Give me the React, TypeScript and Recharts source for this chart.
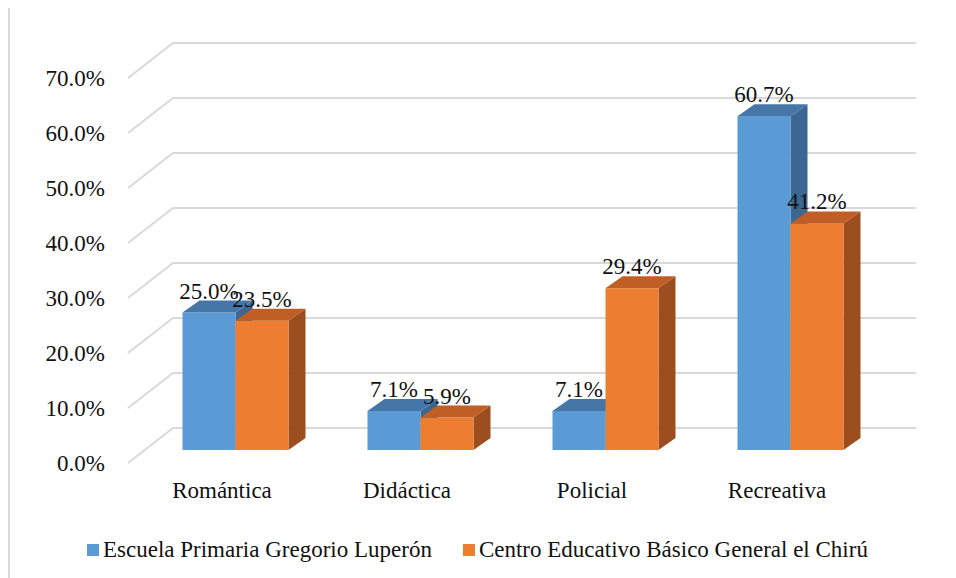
import { BarChart, Bar, XAxis, YAxis, CartesianGrid, LabelList } from 'recharts';

const categories = ['Romántica', 'Didáctica', 'Policial', 'Recreativa'];
const escuelaValues = [25.0, 7.1, 7.1, 60.7];
const centroValues = [23.5, 5.9, 29.4, 41.2];
const seriesNames = ['Escuela Primaria Gregorio Luperón', 'Centro Educativo Básico General el Chirú'];
const yTicks = [0, 10, 20, 30, 40, 50, 60, 70];

const data = categories.map((name, i) => ({
  name,
  escuela: escuelaValues[i],
  centro: centroValues[i],
}));

const FONT = '"Liberation Serif", serif';
const GRID = '#d9d9d9';

// depth of each bar block (top + side faces)
const DX = 17;
const DY = 12;

const palette = {
  escuela: { front: '#5b9bd5', top: '#4676a8', side: '#3c6792' },
  centro: { front: '#ed7d31', top: '#bf5f26', side: '#9c4e1e' },
};

function Bar3D(props: any) {
  const { x, y, width, height, colors } = props;
  if (width == null || height == null) return null;
  const top = `${x},${y} ${x + DX},${y - DY} ${x + width + DX},${y - DY} ${x + width},${y}`;
  const side = `${x + width},${y} ${x + width + DX},${y - DY} ${x + width + DX},${y + height - DY} ${x + width},${y + height}`;
  return (
    <g>
      <polygon points={side} fill={colors.side} />
      <rect x={x} y={y} width={width} height={height} fill={colors.front} />
      <polygon points={top} fill={colors.top} />
    </g>
  );
}

// floor/wall gridline: short diagonal on the left, then along the back wall
function GridLine(p: any) {
  const { x1, x2, y1, index } = p;
  const pts = `${x1 - 14.5},${y1 + 13} ${x1 + 30.5},${y1 - 22} ${x2 + 33.5},${y1 - 22}`;
  return <polyline key={`grid-${index}-${y1}`} points={pts} fill="none" stroke={GRID} strokeWidth={2} />;
}

function YTick({ x, y, payload }: any) {
  return (
    <text className="serif-text" x={x - 37.5} y={y + 20.5} textAnchor="end" fontSize={23} fill="#111">
      {`${Number(payload.value).toFixed(1)}%`}
    </text>
  );
}

function XTick({ x, y, payload }: any) {
  return (
    <text className="serif-text" x={x - 13} y={y + 48} textAnchor="middle" fontSize={23} fill="#111">
      {payload.value}
    </text>
  );
}

function ValueLabel({ x, y, width, value }: any) {
  return (
    <text className="serif-text" x={x + width / 2} y={y - 14} textAnchor="middle" fontSize={23} fill="#111">
      {`${Number(value).toFixed(1)}%`}
    </text>
  );
}

export default function App() {
  const legendItems = [
    { label: seriesNames[0], color: palette.escuela.front },
    { label: seriesNames[1], color: palette.centro.front },
  ];

  return (
    <div className="chart-root" style={{ position: 'relative', width: 948, height: 570 }}>
      <style>{`.chart-root, .chart-root *, .serif-text { font-family: ${FONT} !important; }`}</style>
      <BarChart
        width={948}
        height={570}
        data={data}
        margin={{ top: 57, right: 73.5, bottom: 98, left: 74.5 }}
        barGap={0}
        barSize={53}
      >
        <CartesianGrid vertical={false} horizontal={(p: any) => <GridLine {...p} />} />
        <XAxis
          dataKey="name"
          axisLine={false}
          tickLine={false}
          tickSize={0}
          tickMargin={0}
          height={30}
          tick={<XTick />}
          interval={0}
        />
        <YAxis
          domain={[0, 70]}
          ticks={yTicks}
          axisLine={false}
          tickLine={false}
          tickSize={0}
          tickMargin={0}
          width={60}
          tick={<YTick />}
          interval={0}
        />
        <Bar
          dataKey="escuela"
          name={seriesNames[0]}
          isAnimationActive={false}
          shape={(p: any) => <Bar3D {...p} colors={palette.escuela} />}
        >
          <LabelList dataKey="escuela" content={<ValueLabel />} />
        </Bar>
        <Bar
          dataKey="centro"
          name={seriesNames[1]}
          isAnimationActive={false}
          shape={(p: any) => <Bar3D {...p} colors={palette.centro} />}
        >
          <LabelList dataKey="centro" content={<ValueLabel />} />
        </Bar>
      </BarChart>

      <div
        style={{
          position: 'absolute',
          left: 79,
          top: 529,
          display: 'flex',
          alignItems: 'center',
          fontSize: 23,
          color: '#111',
          whiteSpace: 'nowrap',
        }}
      >
        {legendItems.map((item, i) => (
          <div key={item.label} style={{ display: 'flex', alignItems: 'center', marginLeft: i ? 31 : 0 }}>
            <span style={{ width: 12, height: 12, background: item.color, marginRight: 4, display: 'inline-block' }} />
            <span>{item.label}</span>
          </div>
        ))}
      </div>

      <div
        style={{
          position: 'absolute',
          left: 0,
          top: -1,
          width: 948,
          height: 571,
          borderLeft: `2px solid ${GRID}`,
          borderTop: `1px solid ${GRID}`,
          boxSizing: 'border-box',
          pointerEvents: 'none',
        }}
      />
    </div>
  );
}
